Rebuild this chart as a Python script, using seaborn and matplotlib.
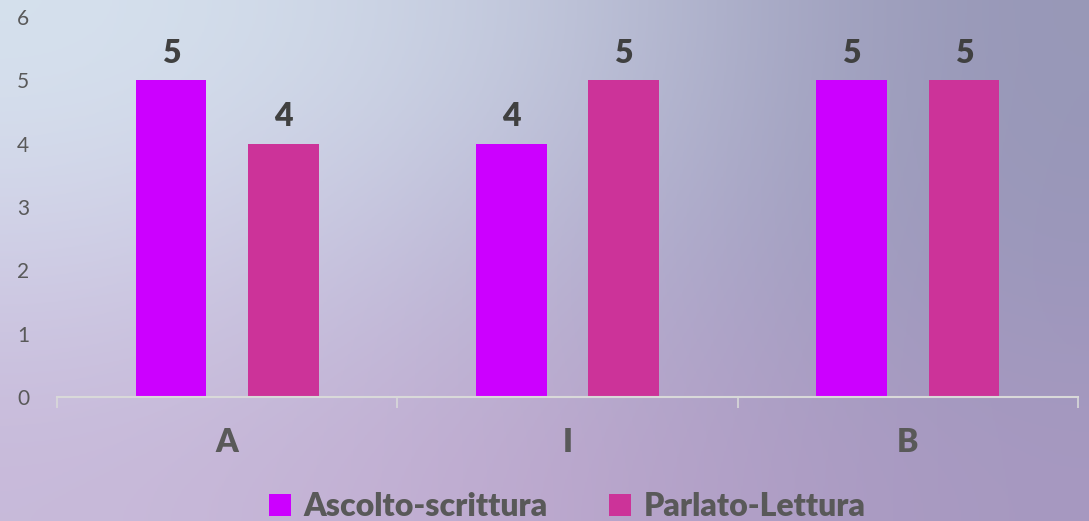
import numpy as np
import pandas as pd
import matplotlib
matplotlib.use("Agg")
import matplotlib.pyplot as plt
import seaborn as sns

# Data
categories = ["A", "I", "B"]
series_names = ["Ascolto-scrittura", "Parlato-Lettura"]
ascolto_scrittura = [5, 4, 5]
parlato_lettura = [4, 5, 5]
y_ticks = [0, 1, 2, 3, 4, 5, 6]

PALETTE = ["#CC00FF", "#CC3399"]
TICK_COLOR = "#595959"
LABEL_COLOR = "#404040"

df = pd.DataFrame({
    "categoria": categories * 2,
    "serie": [series_names[0]] * 3 + [series_names[1]] * 3,
    "valore": ascolto_scrittura + parlato_lettura,
})

sns.set_style("white")
plt.rcParams["font.family"] = ["Lato", "DejaVu Sans"]

fig = plt.figure(figsize=(10.89, 5.21), dpi=100)

# soft nebula-like background gradient
bg = fig.add_axes([0, 0, 1, 1], zorder=-10)
corners = np.array([
    [[214, 226, 238], [196, 202, 222], [150, 150, 182]],
    [[208, 206, 230], [186, 180, 212], [154, 150, 186]],
    [[200, 186, 218], [190, 168, 206], [166, 152, 192]],
]) / 255.0
bg.imshow(corners, extent=[0, 1, 0, 1], aspect="auto", interpolation="bicubic")
bg.set_axis_off()

ax = fig.add_axes([0.0523, 0.238, 0.9377, 0.729])
ax.patch.set_alpha(0)

sns.barplot(data=df, x="categoria", y="valore", hue="serie", palette=PALETTE,
            width=0.66, gap=0.37, saturation=1, linewidth=0, ax=ax, legend=True)

for bars in ax.containers:
    ax.bar_label(bars, fmt="%d", fontsize=23, fontweight="heavy",
                 color=LABEL_COLOR, padding=9)

ax.set_ylim(0, 6)
ax.set_yticks(y_ticks)
ax.set_yticklabels([str(t) for t in y_ticks], fontsize=15, color=TICK_COLOR)
ax.tick_params(axis="y", length=0, pad=20)

ax.set_xlim(-0.5, 2.5)
ax.set_xticks(range(len(categories)))
ax.set_xticklabels(categories, fontsize=23, fontweight="heavy", color=TICK_COLOR)
ax.tick_params(axis="x", which="major", length=0, pad=22)
ax.set_xticks([-0.5, 0.5, 1.5, 2.5], minor=True)
ax.tick_params(axis="x", which="minor", bottom=True, direction="out",
               length=8, color="#d9d9d9", width=1.2)

ax.set_xlabel("")
ax.set_ylabel("")
for side in ["top", "right", "left"]:
    ax.spines[side].set_visible(False)
ax.spines["bottom"].set_color("#d9d9d9")
ax.spines["bottom"].set_linewidth(1.5)

handles, labels = ax.get_legend_handles_labels()
ax.legend_.remove()
leg = fig.legend(handles, labels, loc="lower center", bbox_to_anchor=(0.521, -0.055),
                 ncol=2, frameon=False, handlelength=0.7, handleheight=0.7,
                 handletextpad=0.4, columnspacing=1.9,
                 prop={"size": 23, "weight": "heavy"})
for t in leg.get_texts():
    t.set_color(TICK_COLOR)

fig.savefig("out.png", dpi=100)
